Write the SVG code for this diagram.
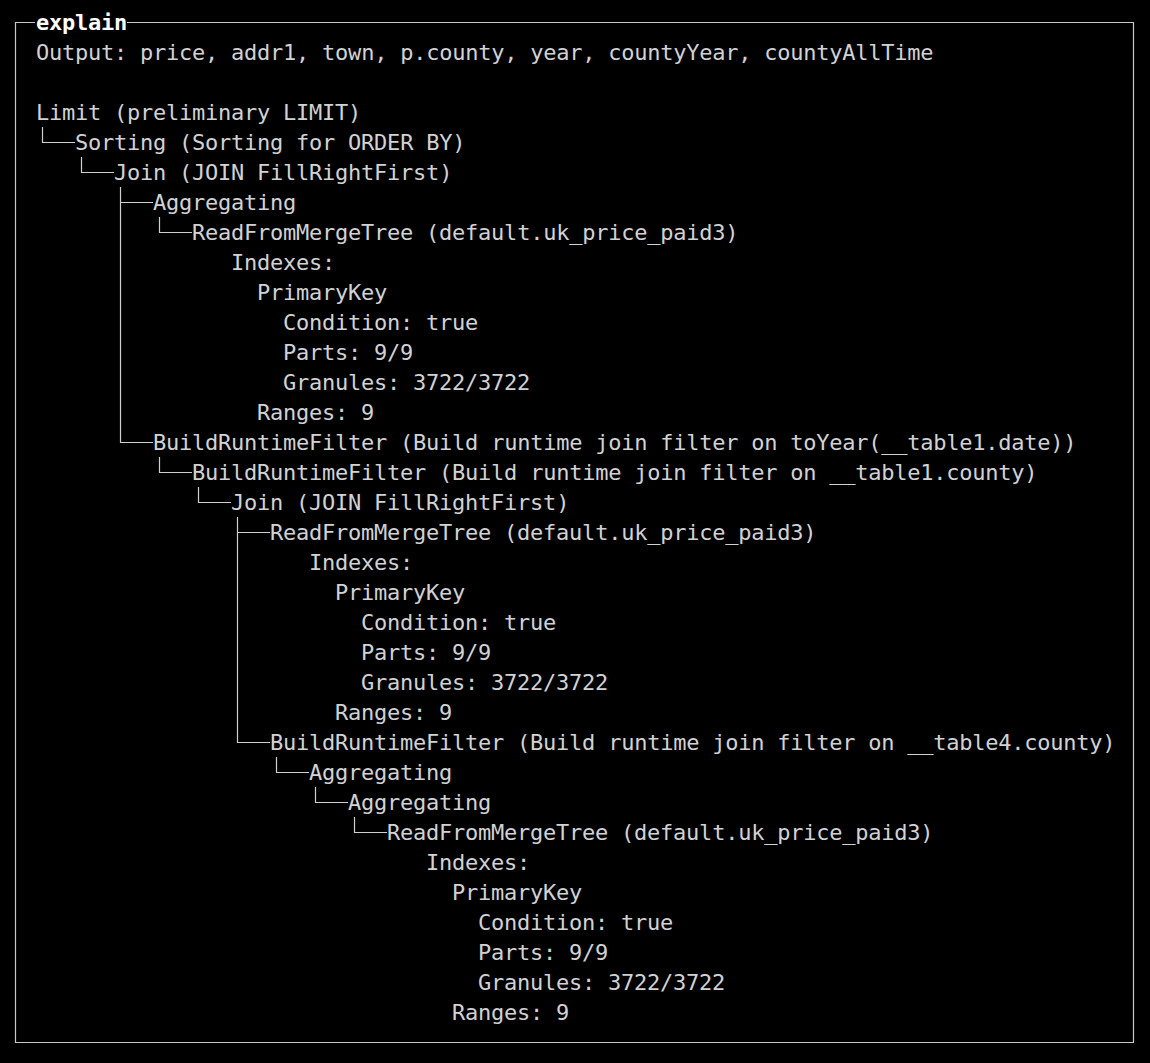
<svg xmlns="http://www.w3.org/2000/svg" width="1150" height="1063" viewBox="0 0 1150 1063">
<style>
.t{font-family:"DejaVu Sans Mono","Liberation Mono",monospace;font-size:22px;letter-spacing:-0.24px;fill:#d2d2d2;white-space:pre}
.title{font-family:"DejaVu Sans Mono","Liberation Mono",monospace;font-size:22px;letter-spacing:-0.24px;fill:#ffffff;font-weight:bold}
.c{stroke:#cfcfcf;stroke-width:1.2;fill:none}
.f{stroke:#c8c8c8;stroke-width:1.2;fill:none}
</style>
<rect x="0" y="0" width="1150" height="1063" fill="#000000"/>
<g id="frame">
<path class="f" d="M35,22.5 H15.5 V1042.5 H1133.5 V22.5 H127"/>
<text class="title" x="36" y="30">explain</text>
</g>
<g id="header"><text class="t" x="36" y="60">Output: price, addr1, town, p.county, year, countyYear, countyAllTime</text></g>
<g id="connectors">
<path class="c" d="M42.5,127 V142.5 H75"/>
<path class="c" d="M81.5,157 V172.5 H114"/>
<path class="c" d="M120.5,187 V442.5 H153 M120.5,202.5 H153"/>
<path class="c" d="M159.5,217 V232.5 H192"/>
<path class="c" d="M159.5,457 V472.5 H192"/>
<path class="c" d="M198.5,487 V502.5 H231"/>
<path class="c" d="M237.5,517 V742.5 H270 M237.5,532.5 H270"/>
<path class="c" d="M276.5,757 V772.5 H309"/>
<path class="c" d="M315.5,787 V802.5 H348"/>
<path class="c" d="M354.5,817 V832.5 H387"/>
</g>
<g id="n-limit"><text class="t" x="36" y="120">Limit (preliminary LIMIT)</text></g>
<g id="n-sorting"><text class="t" x="75" y="150">Sorting (Sorting for ORDER BY)</text></g>
<g id="n-join1"><text class="t" x="114" y="180">Join (JOIN FillRightFirst)</text></g>
<g id="n-agg1"><text class="t" x="153" y="210">Aggregating</text></g>
<g id="n-read1">
<text class="t" x="192" y="240">ReadFromMergeTree (default.uk_price_paid3)</text>
<text class="t" x="231" y="270">Indexes:</text>
<text class="t" x="257" y="300">PrimaryKey</text>
<text class="t" x="283" y="330">Condition: true</text>
<text class="t" x="283" y="360">Parts: 9/9</text>
<text class="t" x="283" y="390">Granules: 3722/3722</text>
<text class="t" x="257" y="420">Ranges: 9</text>
</g>
<g id="n-brf1"><text class="t" x="153" y="450">BuildRuntimeFilter (Build runtime join filter on toYear(__table1.date))</text></g>
<g id="n-brf2"><text class="t" x="192" y="480">BuildRuntimeFilter (Build runtime join filter on __table1.county)</text></g>
<g id="n-join2"><text class="t" x="231" y="510">Join (JOIN FillRightFirst)</text></g>
<g id="n-read2">
<text class="t" x="270" y="540">ReadFromMergeTree (default.uk_price_paid3)</text>
<text class="t" x="309" y="570">Indexes:</text>
<text class="t" x="335" y="600">PrimaryKey</text>
<text class="t" x="361" y="630">Condition: true</text>
<text class="t" x="361" y="660">Parts: 9/9</text>
<text class="t" x="361" y="690">Granules: 3722/3722</text>
<text class="t" x="335" y="720">Ranges: 9</text>
</g>
<g id="n-brf3"><text class="t" x="270" y="750">BuildRuntimeFilter (Build runtime join filter on __table4.county)</text></g>
<g id="n-agg2"><text class="t" x="309" y="780">Aggregating</text></g>
<g id="n-agg3"><text class="t" x="348" y="810">Aggregating</text></g>
<g id="n-read3">
<text class="t" x="387" y="840">ReadFromMergeTree (default.uk_price_paid3)</text>
<text class="t" x="426" y="870">Indexes:</text>
<text class="t" x="452" y="900">PrimaryKey</text>
<text class="t" x="478" y="930">Condition: true</text>
<text class="t" x="478" y="960">Parts: 9/9</text>
<text class="t" x="478" y="990">Granules: 3722/3722</text>
<text class="t" x="452" y="1020">Ranges: 9</text>
</g>
</svg>
